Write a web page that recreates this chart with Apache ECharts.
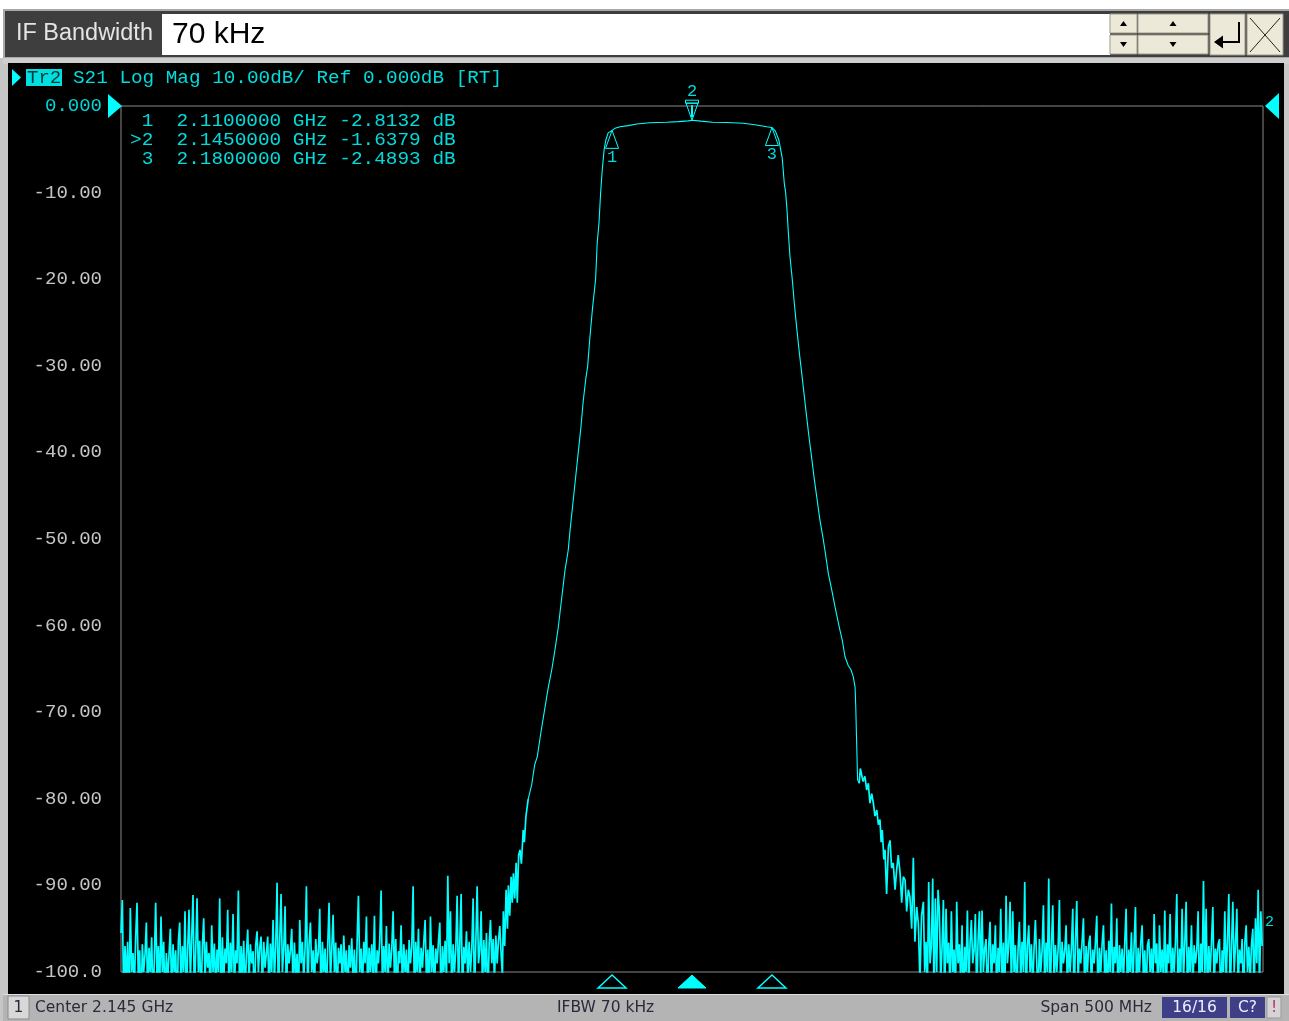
<!DOCTYPE html>
<html><head><meta charset="utf-8">
<script src="https://cdn.jsdelivr.net/npm/echarts@6/dist/echarts.min.js"></script>
<style>html,body{margin:0;padding:0;background:#fff;}#c{width:1289px;height:1021px;}</style>
</head><body><div id="c"></div>
<script>
// ---- sweep / axis definition (MHz offset from start 1.895 GHz) ----
const START_GHZ = 1.895;
const SPAN_MHZ = 500;
const NOISE_STEP = 0.584;
const yTickLabels = ['0.000','-10.00','-20.00','-30.00','-40.00','-50.00','-60.00','-70.00','-80.00','-90.00','-100.0'];

// ---- trace values (dB) ----
const noiseLeftStart = 0;
const noiseLeft = [
-95.5,-91.7,-103,-97,-101,-96.5,-104,-92.6,-100,-97.8,
-102,-96,-92,-101,-97.5,-105,-96.8,-100,-98,-94.3,
-103,-97.2,-100,-96,-104,-98.5,-92,-101,-97,-102,
-93.6,-100,-96.5,-104,-97.8,-101,-98,-95,-103,-96.8,
-100,-97.5,-105,-96.5,-94.3,-102,-97,-100,-93,-104,
-97.3,-92.8,-101,-96,-91.1,-103,-97.6,-91.5,-100,-96.4,
-104,-97,-93.8,-101,-96.5,-99.5,-97.8,-103,-94.6,-100,
-96.7,-102,-97.4,-100,-91.5,-104,-96,-101,-97.3,-99,
-92.8,-103,-96.6,-100,-93.3,-102,-97.5,-99,-90.6,-104,
-97,-100.5,-96.4,-103,-98,-95.1,-101,-96.8,-99,-97.6,
-104,-96.9,-95.3,-100,-97.2,-95.9,-102,-96.5,-99.5,-97.8,
-95.9,-103,-96.7,-100,-94,-101,-97,-89.7,-104,-96.3,
-91,-100,-97.4,-92.4,-103,-96.8,-99,-97.5,-95,-102,
-96.6,-100.5,-97.9,-104,-94,-99,-96.5,-101,-97.2,-90.1,
-103,-96.8,-94.3,-100,-97.5,-102,-96.2,-99,-97.7,-92.7,
-104,-96.5,-100,-97.3,-103,-96.9,-92,-101,-97.4,-93.4,
-100,-96.6,-104,-97.2,-99,-96.8,-102,-95.8,-100,-97.5,
-103,-96.9,-99.5,-96.1,-101,-97.4,-104,-96.6,-91.2,-100,
-97.3,-102,-96.5,-99,-93.6,-103,-97.2,-100,-96.8,-101,
-93.5,-104,-97.5,-99,-96.4,-90.6,-102,-97,-100,-94.7,
-103,-96.7,-99.5,-97.3,-93,-101,-96.2,-104,-97.6,-99,
-94.6,-102,-96.8,-100,-97.4,-103,-96.3,-99,-97.1,-90.1,
-104,-96.5,-100,-95,-102,-97.2,-99.5,-96.6,-94,-101,
-97.4,-103,-93.6,-100,-96.9,-102,-97.3,-99,-96.5,-94.3,
-104,-97,-100,-96.4,-101,-88.9,-99,-93,-103,-96.8,
-100,-97.4,-91.2,-102,-96.6,-91,-104,-97.1,-99,-95.3,
-101,-96.5,-100,-97.3,-91.5,-103,-96.7,-90.1,-99,-97.5,
-93,-102,-96.3,-100,-95.5,-104,-96.8,-94,-99,-96.2,
-101,-95.8,-99,-96.4,-94.7,-98
];
const skirtLeft = [
[167.0,-100.5],[167.4,-93],[168.0,-97],[168.6,-90.5],[169.2,-95],[169.6,-90],[170.2,-93.5],[170.8,-89],
[171.3,-92],[171.8,-88.6],[172.4,-91.5],[173.0,-87.4],[173.5,-92],[174.1,-86.5],[174.7,-85.9],[175.3,-87.5],
[176.1,-83.6],[176.6,-85],[177.3,-82],[178.3,-80],[179.8,-78.4],[181.1,-76.1],[182.3,-75.1],[183.8,-72.4],
[185.3,-70],[187.1,-67.1],[188.6,-65.1],[190.0,-62.8],[191.5,-60.1],[193.0,-56.7],[194.4,-53.6],[195.8,-51.3],
[196.6,-49],[198.8,-43.5],[200.2,-40],[201.4,-37],[202.4,-34],[203.6,-31.3],[204.3,-30.1],[205.3,-26.7],
[206.5,-23.2],[207.8,-20],[208.5,-15.8],[209.3,-13.4],[210.0,-10],[210.7,-7.4],[211.5,-5.1],[212.3,-3.9],
[213.3,-3.1],[215.0,-2.8132]
];
const passband = [
[216.3,-2.58],[218.5,-2.39],[222.1,-2.27],[225.8,-2.08],[231.6,-1.93],[238.9,-1.88],[244.0,-1.8],[248.4,-1.72],
[250.0,-1.6379],[254.0,-1.75],[258.9,-1.88],[265.2,-1.9],[272.5,-2.0],[278.3,-2.19],[282.7,-2.39],[285.0,-2.4893]
];
const skirtRight = [
[286.5,-2.9],[288.0,-3.9],[289.5,-6.0],[290.4,-8.9],[291.0,-10],[291.6,-12],[292.2,-14.7],[292.9,-17.4],
[293.9,-20],[294.8,-22.8],[295.8,-25.5],[297.0,-28.5],[297.7,-30.1],[299.0,-33.1],[300.2,-35.9],[301.4,-38.6],
[302.1,-40],[303.4,-42.8],[304.6,-45.1],[306.0,-47.8],[307.5,-50.1],[308.2,-51.3],[309.7,-54],[311.2,-55.9],
[312.6,-57.8],[314.4,-60.1],[315.8,-61.7],[317.0,-63.6],[318.4,-64.6],[319.6,-65.1],[320.6,-65.9],[321.4,-67.1],
[321.7,-69.4],[322.1,-73.6],[322.5,-77.8],[323.2,-78.2],[323.7,-76.5],[324.3,-76.7],[324.9,-78],[325.7,-77.4],
[326.5,-79],[327.2,-78.2],[327.9,-80.5],[328.7,-79.4],[329.4,-80.5],[330.1,-82],[330.9,-81.3],[331.6,-83],
[332.3,-82.4],[332.8,-85],[333.3,-83.6],[334.0,-87],[334.5,-85.9],[335.2,-91],[336.0,-85.5],[336.7,-84.8],
[337.4,-88],[338.1,-87.4],[338.9,-90.5],[339.6,-88.2],[340.3,-86.5],[341.1,-88.6],[341.8,-92],[342.5,-89],
[343.3,-89.4],[344.0,-93],[344.7,-90.5],[345.4,-91.3],[346.2,-95],[346.9,-86.8],[347.6,-96.5],[348.4,-92.5],
[349.1,-94.4],[349.8,-101],[350.5,-93.5]
];
const noiseRightStart = 351.3;
const noiseRight = [
-91.9,-100,-96.5,-102,-89.6,-99,-97,-89.2,-103,-91.5,
-100,-90.5,-93,-101,-97.2,-91.7,-104,-92.7,-99,-96.6,
-102,-93,-100,-97.4,-103,-91.9,-99,-96.8,-101,-94.6,
-104,-97.1,-100,-92.9,-102,-96.7,-94,-99,-97.5,-93.3,
-103,-96.4,-93,-101,-92.9,-100,-97.3,-96.2,-104,-97,
-94.2,-102,-96.8,-99,-94.6,-103,-97.2,-100,-92.7,-101,
-96.6,-104,-91.2,-99,-97,-91.9,-102,-93,-100,-96.9,
-103,-97.4,-94.2,-101,-96.5,-100,-89.6,-104,-97,-94.6,
-100,-96.8,-102,-97.3,-94,-99,-103,-96.2,-100,-97.5,
-92.3,-102,-96.6,-100,-89.2,-104,-97.1,-92.3,-101,-96.9,
-100,-97.4,-91.7,-103,-96.5,-99,-97.6,-94.6,-102,-96.8,
-100,-97.2,-92.7,-104,-96.6,-91.8,-101,-97.3,-99,-96.5,
-93.8,-103,-97,-100,-96.7,-95.8,-102,-97.4,-99,-96.6,
-93.5,-104,-97.2,-100,-96.8,-94.6,-101,-97.5,-103,-96.4,
-100,-92.1,-102,-97.1,-99,-93.8,-104,-96.9,-100,-97.3,
-101,-96.5,-92.7,-103,-97.4,-100,-95.4,-102,-96.8,-92.5,
-104,-97.2,-100,-96.6,-94.6,-101,-97.5,-103,-96.9,-96.2,
-100,-97.3,-102,-93.3,-99,-96.7,-104,-94.6,-100,-97.4,
-101,-92.9,-103,-96.8,-99,-93.3,-102,-97.2,-100,-96.5,
-91,-104,-97.3,-100,-92.7,-101,-96.6,-91.9,-103,-97.1,
-100,-94.6,-102,-96.9,-99,-97.4,-93,-104,-96.7,-100,
-89.5,-101,-92.7,-103,-97,-100,-96.6,-92.5,-102,-97.3,
-99,-96.8,-96.2,-104,-97.5,-100,-93,-101,-96.4,-91,
-103,-97.2,-91.9,-100,-96.9,-92.7,-102,-97.4,-99,-96.2,
-104,-96.6,-94.6,-100,-97.1,-101,-96.8,-95,-103,-93.8,
-99,-90.5,-102,-93,-97
];

// ---- markers ----
const markerNo = ['1','2','3'];
const markerFreqGHz = [2.11, 2.145, 2.18];
const markerDb = [-2.8132, -1.6379, -2.4893];
const activeMarker = 1;

// ---- build trace ----
const trace = [];
noiseLeft.forEach((v,i)=>trace.push([noiseLeftStart + i*NOISE_STEP, v]));
skirtLeft.forEach(p=>trace.push(p));
passband.forEach(p=>trace.push(p));
skirtRight.forEach(p=>trace.push(p));
noiseRight.forEach((v,i)=>trace.push([noiseRightStart + i*NOISE_STEP, v]));
// noisy parts (drawn slightly heavier, like the analyser's min/max columns) share end points with the clean part
const NOISY_BELOW = 178.3, NOISY_ABOVE = 323.2;
const traceNoisyL = trace.filter(p=>p[0]<=NOISY_BELOW);
const traceClean = trace.filter(p=>p[0]>=NOISY_BELOW && p[0]<=NOISY_ABOVE);
const traceNoisyR = trace.filter(p=>p[0]>=NOISY_ABOVE);

const CY = '#00ffff';
const CYT = '#00dcdc';
const MONO = 'Liberation Mono';

const chart = echarts.init(document.getElementById('c'), null, {renderer:'canvas', width:1289, height:1021});
function traceSeries(data,w){return {type:'line', data, showSymbol:false, symbol:'none', clip:true, z:5, lineStyle:{color:CY, width:w}};}
chart.setOption({
  animation:false,
  backgroundColor:'#ffffff',
  grid:{left:121, top:106, width:1142, height:866, show:true, backgroundColor:'#000000', borderColor:'#8a8a8a', borderWidth:1, z:1},
  xAxis:{type:'value', min:0, max:SPAN_MHZ, interval:50,
    axisLine:{show:false}, axisTick:{show:false}, axisLabel:{show:false},
    splitLine:{show:true, showMinLine:false, showMaxLine:false, lineStyle:{color:'#3a3a3a', width:1}}},
  yAxis:{type:'value', min:-100, max:0, interval:10,
    axisLine:{show:false}, axisTick:{show:false},
    axisLabel:{margin:19, fontFamily:MONO, fontSize:19, color:'#c4c4c4',
      formatter:function(v){const i=Math.round(-v/10); return i===0 ? '{r|'+yTickLabels[i]+'}' : yTickLabels[i];},
      rich:{r:{color:'#00d4d4', fontFamily:MONO, fontSize:19}}},
    splitLine:{show:true, showMinLine:false, showMaxLine:false, lineStyle:{color:'#3a3a3a', width:1}}},
  series:[traceSeries(traceNoisyL,1.7), traceSeries(traceClean,1.1), traceSeries(traceNoisyR,1.7)]
});

const px = (x,y)=>chart.convertToPixel({gridIndex:0},[x,y]);
const G = [];
function rect(x,y,w,h,fill,stroke,z,lw){G.push({type:'rect', z:z===undefined?-10:z, silent:true, shape:{x,y,width:w,height:h}, style:{fill, stroke:stroke||null, lineWidth:lw||1}});}
function text(t,x,y,font,fill,align,z,extra){const o={type:'text', z:z===undefined?10:z, silent:true, x, y, style:{text:t, x:0, y:0, font, fill, align:align||'left', verticalAlign:'middle'}}; if(extra) Object.assign(o,extra); G.push(o);}
function poly(pts,fill,stroke,z,lw){G.push({type:'polygon', z:z===undefined?10:z, silent:true, shape:{points:pts}, style:{fill:fill||null, stroke:stroke||null, lineWidth:lw||1}});}
function line(x1,y1,x2,y2,stroke,lw,z){G.push({type:'line', z:z===undefined?10:z, silent:true, shape:{x1,y1,x2,y2}, style:{stroke, lineWidth:lw||1}});}

// window chrome
rect(0,58,1289,963,'#c6c6c6',null,-20);
rect(3,9,1286,50,'#a8a8a8',null,-19);
rect(5,11,1284,46,'#3e3e3e',null,-18);
text('IF Bandwidth',16,34,'23px "Liberation Sans"','#e4e4e4','left',10,{scaleX:1.02});
rect(162,14,948,41,'#ffffff',null,-17);
text('70 kHz',172,35,'30px "Liberation Sans"','#000000','left',10);
[[1110,14,27,19],[1110,35,27,19],[1138,14,70,19],[1138,35,70,19],[1210,14,35,41],[1247,14,36,41]].forEach(b=>{
  rect(b[0],b[1],b[2],b[3],'#ece9d8','#9d9a8c',-16);
});
poly([[1123.5,21],[1120,26],[1127,26]],'#000');
poly([[1123.5,47],[1120,42],[1127,42]],'#000');
poly([[1173,21],[1169.5,26],[1176.5,26]],'#000');
poly([[1173,47],[1169.5,42],[1176.5,42]],'#000');
line(1239,22,1239,43,'#000',2);
line(1239,42,1222,42,'#000',2);
poly([[1214,42],[1223,35.5],[1223,48.5]],'#000');
line(1250,18,1280,52,'#222',1);
line(1280,18,1250,52,'#222',1);
rect(3,58,1286,6,'#cfcfcf',null,-15);
rect(8,63,1276,931,'#000000',null,-14);
// header line
poly([[12,69],[12,86],[21,77.5]],CY);
rect(26,69,36,17,'#00e0e0',null,8);
text('Tr2',27,78,'19px "'+MONO+'"','#003838','left',10);
text('S21 Log Mag 10.00dB/ Ref 0.000dB [RT]',73,78,'19px "'+MONO+'"',CYT,'left',10,{scaleX:1.017});

// reference level triangles
const r0 = px(0,0), r1 = px(SPAN_MHZ,0);
poly([[r0[0]+1,r0[1]],[r0[0]-13,r0[1]-12],[r0[0]-13,r0[1]+12]],CY);
poly([[r1[0]+2,r1[1]],[r1[0]+16,r1[1]-13],[r1[0]+16,r1[1]+13]],CY);

// marker table
markerNo.forEach((n,i)=>{
  const s=(i===activeMarker?'>':' ')+n+'  '+markerFreqGHz[i].toFixed(7)+' GHz '+markerDb[i].toFixed(4)+' dB';
  text(s,130,121+i*19,'19px "'+MONO+'"',CYT,'left',10,{scaleX:1.02});
});

// markers on trace and below the grid
const gridBottom = px(0,-100)[1];
markerNo.forEach((n,i)=>{
  const f=(markerFreqGHz[i]-START_GHZ)*1000;
  const p=px(f,markerDb[i]);
  if(i===activeMarker){
    poly([[p[0],p[1]],[p[0]-6,p[1]-17],[p[0]+6,p[1]-17]],null,CY,12);
    rect(p[0]-6.5,p[1]-20,13,3,null,CY,12);
    line(p[0],p[1]-15,p[0],p[1]-3,CY,2,12);
    text(n,p[0],p[1]-29,'17px "'+MONO+'"',CYT,'center',12);
    poly([[p[0],gridBottom+3],[p[0]-14,gridBottom+16],[p[0]+14,gridBottom+16]],CY,CY,12);
  } else {
    poly([[p[0],p[1]],[p[0]-6.5,p[1]+18],[p[0]+6.5,p[1]+18]],null,CY,12);
    text(n,p[0],p[1]+27,'17px "'+MONO+'"',CYT,'center',12);
    poly([[p[0],gridBottom+3],[p[0]-14,gridBottom+16],[p[0]+14,gridBottom+16]],null,CY,12,1.5);
  }
});
const e=px(SPAN_MHZ,-94.2);
text('2',e[0]+2,e[1],'15px "'+MONO+'"',CYT,'left',12);

// status bar
rect(3,994,1286,27,'#b4b4b4',null,-13);
line(3,994.5,1289,994.5,'#e0e0e0',1,-12);
rect(8,996,21,23,'#d8d8d8','#8c8c8c',-11);
text('1',18.5,1008,'15.5px "DejaVu Sans"','#2a2a3a','center',10);
text('Center 2.145 GHz',35,1008,'15.5px "DejaVu Sans"','#2a2a3a','left',10);
text('IFBW 70 kHz',557,1008,'15.5px "DejaVu Sans"','#2a2a3a','left',10);
text('Span 500 MHz',1152,1008,'15.5px "DejaVu Sans"','#2a2a3a','right',10);
rect(1162,997,65,21,'#3f3f88',null,-11);
text('16/16',1194.5,1008,'15.5px "DejaVu Sans"','#eeeeff','center',10);
rect(1230,997,35,21,'#3f3f88',null,-11);
text('C?',1247.5,1008,'15.5px "DejaVu Sans"','#eeeeff','center',10);
rect(1267,997,14,21,'#d4d4d4','#9a9a9a',-11);
text('!',1274,1008,'15.5px "DejaVu Sans"','#c03070','center',10);

chart.setOption({graphic:{elements:G}});
</script>
</body></html>
